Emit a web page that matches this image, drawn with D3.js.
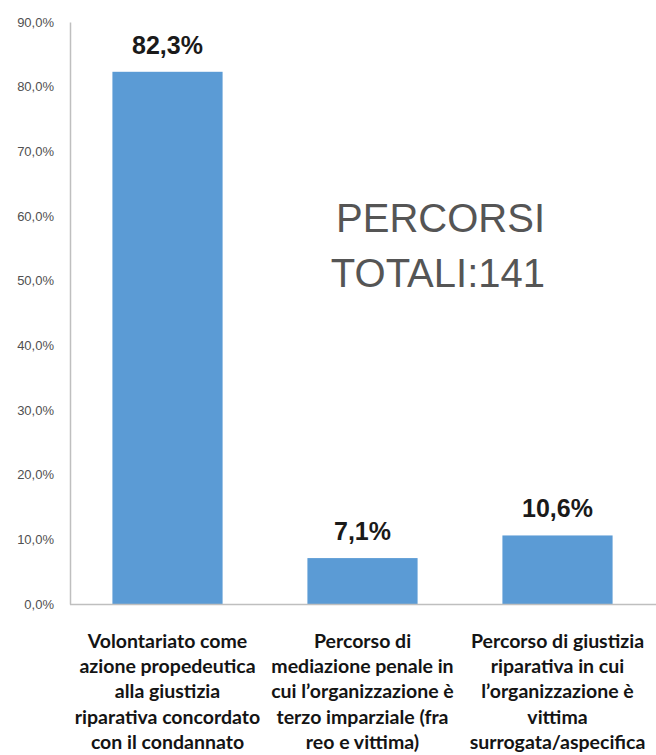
<!DOCTYPE html>
<html>
<head>
<meta charset="utf-8">
<script src="https://cdn.jsdelivr.net/npm/d3@7"></script>
<style>
  html, body { margin: 0; padding: 0; background: #ffffff; }
  svg { display: block; }
</style>
</head>
<body>
<div id="chart"></div>
<script>
// Data
const categories = [
  ["Volontariato come", "azione propedeutica", "alla giustizia", "riparativa concordato", "con il condannato"],
  ["Percorso di", "mediazione penale in", "cui l\u2019organizzazione è", "terzo imparziale (fra", "reo e vittima)"],
  ["Percorso di giustizia", "riparativa in cui", "l\u2019organizzazione è", "vittima", "surrogata/aspecifica"]
];
const values = [82.3, 7.1, 10.6];
const valueLabels = ["82,3%", "7,1%", "10,6%"];
const yTicks = [0, 10, 20, 30, 40, 50, 60, 70, 80, 90];
const annotation = ["PERCORSI", "TOTALI:141"];

const width = 656, height = 755;
const margin = { top: 22, right: 1, bottom: 151, left: 70 };

const svg = d3.select("#chart").append("svg")
  .attr("width", width)
  .attr("height", height);

const x = d3.scaleBand()
  .domain(d3.range(values.length))
  .range([margin.left, width - margin.right])
  .paddingInner(0.435)
  .paddingOuter(0.2175);

const y = d3.scaleLinear()
  .domain([0, 90])
  .range([height - margin.bottom, margin.top]);

// Y axis with comma-decimal percentage labels
const yAxis = d3.axisLeft(y)
  .tickValues(yTicks)
  .tickSize(0)
  .tickPadding(16)
  .tickFormat(d => d.toFixed(1).replace(".", ",") + "%");

const gy = svg.append("g")
  .attr("transform", `translate(${margin.left},0)`)
  .call(yAxis);
gy.select(".domain").attr("stroke", "#bfbfbf").attr("stroke-width", 1.5);
gy.selectAll("text")
  .attr("fill", "#505050")
  .style("font-family", "'Liberation Sans', Arial, sans-serif")
  .style("font-size", "13px");

// Bars
svg.append("g").selectAll("rect")
  .data(values)
  .join("rect")
  .attr("x", (d, i) => x(i))
  .attr("y", d => y(d))
  .attr("width", x.bandwidth())
  .attr("height", d => y(0) - y(d))
  .attr("fill", "#5b9bd5");

// Baseline
svg.append("line")
  .attr("x1", margin.left)
  .attr("x2", width)
  .attr("y1", y(0) + 0.5)
  .attr("y2", y(0) + 0.5)
  .attr("stroke", "#bfbfbf")
  .attr("stroke-width", 1.5);

// Value labels
svg.append("g").selectAll("text")
  .data(values)
  .join("text")
  .attr("x", (d, i) => x(i) + x.bandwidth() / 2)
  .attr("y", d => y(d) - 18)
  .attr("text-anchor", "middle")
  .attr("fill", "#1a1a1a")
  .style("font-family", "'Liberation Sans', Arial, sans-serif")
  .style("font-weight", "bold")
  .style("font-size", "25px")
  .text((d, i) => valueLabels[i]);

// Category labels
const catG = svg.append("g");
categories.forEach((lines, i) => {
  const cx = x(i) + x.bandwidth() / 2;
  const t = catG.append("text")
    .attr("x", cx)
    .attr("y", 648)
    .attr("text-anchor", "middle")
    .attr("fill", "#141414")
    .style("font-family", "Lato, 'Open Sans', sans-serif")
    .style("font-weight", "bold")
    .style("font-size", "19.5px");
  lines.forEach((ln, j) => {
    t.append("tspan")
      .attr("x", cx)
      .attr("dy", j === 0 ? 0 : 25.2)
      .text(ln);
  });
});

// Annotation
const ann = svg.append("text")
  .attr("x", 545)
  .attr("y", 232)
  .attr("text-anchor", "end")
  .attr("fill", "#555555")
  .style("font-family", "'Liberation Sans', Arial, sans-serif")
  .style("font-size", "40px");
annotation.forEach((ln, j) => {
  ann.append("tspan")
    .attr("x", 545)
    .attr("dy", j === 0 ? 0 : 55)
    .text(ln);
});
</script>
</body>
</html>
